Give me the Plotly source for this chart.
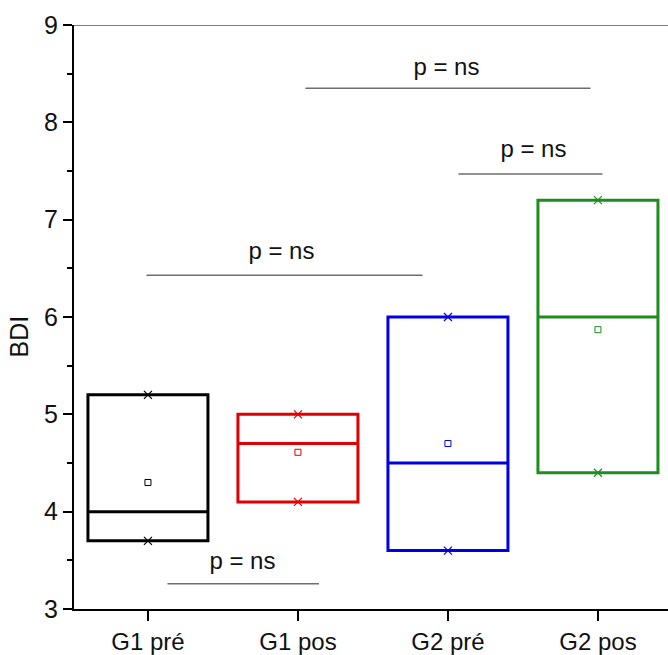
import plotly.graph_objects as go

# ---- data ----
groups = ["G1 pré", "G1 pos", "G2 pré", "G2 pos"]
positions = [0, 1, 2, 3]
q1 = [3.70, 4.10, 3.60, 4.40]
median = [4.00, 4.70, 4.50, 6.00]
q3 = [5.20, 5.00, 6.00, 7.20]
mean = [4.30, 4.61, 4.70, 5.87]
colors = ["#000000", "#e00000", "#0000e6", "#1e8c1e"]

# significance brackets (x in category units)
sig_x0 = [0.13, -0.01, 1.05, 2.07]
sig_x1 = [1.14, 1.83, 2.95, 3.03]
sig_y = [3.26, 6.43, 8.35, 7.47]
label_x = [0.63, 0.89, 1.99, 2.57]
label_y = [3.47, 6.66, 8.55, 7.71]
label_text = ["p = ns", "p = ns", "p = ns", "p = ns"]

FONT = "Liberation Sans, Arial, sans-serif"

fig = go.Figure()

for i in range(len(groups)):
    fig.add_trace(go.Box(
        x=[positions[i]], q1=[q1[i]], median=[median[i]], q3=[q3[i]],
        lowerfence=[q1[i]], upperfence=[q3[i]],
        width=0.8, line=dict(color=colors[i], width=3),
        fillcolor="rgba(255,255,255,0)", whiskerwidth=0,
        boxpoints=False, showlegend=False, hoverinfo="skip",
    ))
    fig.add_trace(go.Scatter(
        x=[positions[i], positions[i]], y=[q1[i], q3[i]], mode="markers",
        marker=dict(symbol="x-thin", size=8, line=dict(color=colors[i], width=1.2)),
        showlegend=False, hoverinfo="skip",
    ))
    fig.add_trace(go.Scatter(
        x=[positions[i]], y=[mean[i]], mode="markers",
        marker=dict(symbol="square-open", size=6, color=colors[i], line=dict(width=1)),
        showlegend=False, hoverinfo="skip",
    ))

for i in range(len(sig_y)):
    fig.add_trace(go.Scatter(
        x=[sig_x0[i], sig_x1[i]], y=[sig_y[i], sig_y[i]], mode="lines",
        line=dict(color="#6e6e6e", width=1.5), showlegend=False, hoverinfo="skip",
    ))

fig.add_trace(go.Scatter(
    x=label_x, y=label_y, mode="text", text=label_text,
    textfont=dict(family=FONT, size=24, color="#111111"),
    showlegend=False, hoverinfo="skip",
))

# top border line
fig.add_shape(type="line", xref="paper", yref="y", x0=0, x1=1, y0=9, y1=9,
              line=dict(color="#808080", width=2))

# y-axis title
fig.add_annotation(text="BDI", xref="paper", yref="y", x=-0.091, y=5.8,
                   xanchor="center", yanchor="middle", textangle=-90, showarrow=False,
                   font=dict(family=FONT, size=25, color="#111111"))

fig.update_layout(
    width=668, height=655,
    margin=dict(l=74, r=0, t=25, b=41),
    plot_bgcolor="white", paper_bgcolor="white",
    font=dict(family=FONT, size=24, color="#111111"),
    xaxis=dict(
        range=[-0.493, 3.467], tickmode="array", tickvals=positions, ticktext=groups,
        showline=True, linecolor="black", linewidth=2, showgrid=False, zeroline=False,
        ticks="outside", ticklen=10, tickwidth=2, tickcolor="black",
        tickfont=dict(family=FONT, size=24, color="#111111"),
    ),
    yaxis=dict(
        range=[3, 9], tickmode="array", tickvals=[3, 4, 5, 6, 7, 8, 9],
        showline=True, linecolor="black", linewidth=2, showgrid=False, zeroline=False,
        ticks="outside", ticklen=9, tickwidth=2, tickcolor="black",
        minor=dict(ticks="outside", ticklen=5, tickwidth=2, tickcolor="black", dtick=0.5, showgrid=False),
        tickfont=dict(family=FONT, size=25, color="#111111"),
    ),
)

fig.write_html("out.html")
